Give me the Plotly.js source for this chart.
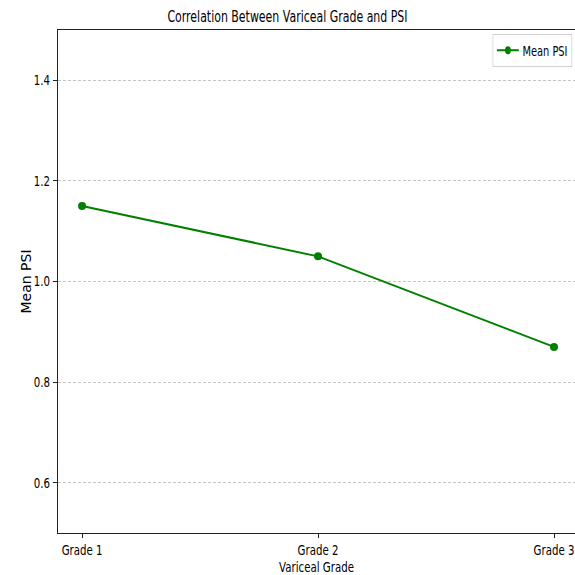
<!DOCTYPE html>
<html>
<head>
<meta charset="utf-8">
<script src="https://cdn.plot.ly/plotly-3.0.1.min.js"></script>
<style>html,body{margin:0;padding:0;background:#fff;}#chart{width:575px;height:575px;}</style>
</head>
<body>
<div id="chart"></div>
<script>
const grades = ["Grade 1", "Grade 2", "Grade 3"];
const meanPSI = [1.15, 1.05, 0.87];
const yTicks = [0.6, 0.8, 1.0, 1.2, 1.4];

const fam = "DejaVu Sans, sans-serif";
const SQ = 0.73;       // horizontal squeeze of the reference's text
const SQ_TITLE = 0.665;

Plotly.newPlot("chart", [{
  x: grades,
  y: meanPSI,
  type: "scatter",
  mode: "lines+markers",
  name: "Mean PSI",
  line: {color: "#008000", width: 2},
  marker: {color: "#008000", size: 8}
}], {
  width: 575, height: 575,
  margin: {l: 58, r: 0, t: 30, b: 42},
  paper_bgcolor: "#fff", plot_bgcolor: "#fff",
  title: {text: "Correlation Between Variceal Grade and PSI", font: {family: fam, size: 16.5, color: "#000"}, x: 0.5, xanchor: "center", y: 0.971, yanchor: "middle"},
  xaxis: {
    type: "category", range: [-0.102, 2.089],
    showline: true, linecolor: "#222", linewidth: 1.2, mirror: true,
    ticks: "outside", ticklen: 4, tickcolor: "#222",
    showgrid: false, zeroline: false,
    tickfont: {family: fam, size: 14, color: "#000"},
    title: {text: "Variceal Grade", font: {family: fam, size: 14, color: "#000"}, standoff: 6}
  },
  yaxis: {
    range: [0.5, 1.5], tickvals: yTicks, tickformat: ".1f",
    showline: true, linecolor: "#222", linewidth: 1.2, mirror: false,
    ticks: "outside", ticklen: 4, tickcolor: "#222",
    showgrid: true, gridcolor: "#c4c4c4", griddash: "3px,2px", gridwidth: 1,
    zeroline: false,
    tickfont: {family: fam, size: 14, color: "#000"}
  },
  annotations: [{
    text: "Mean PSI", textangle: -90, showarrow: false,
    xref: "paper", yref: "paper", x: 0, y: 0.5, xanchor: "center", yanchor: "middle", xshift: -33,
    font: {family: fam, size: 14, color: "#000"}
  }],
  showlegend: true,
  legend: {x: 0.995, y: 0.992, xanchor: "right", yanchor: "top", bgcolor: "#fff", bordercolor: "#d0d0d0", borderwidth: 1, itemwidth: 30, font: {family: fam, size: 13.5, color: "#000"}}
}, {displayModeBar: false}).then(function (gd) {
  function squeeze(el, s) {
    const x = parseFloat(el.getAttribute("x")) || 0;
    const t = el.getAttribute("transform") || "";
    el.setAttribute("transform", t + " translate(" + x + ",0) scale(" + s + ",1) translate(" + (-x) + ",0)");
  }
  gd.querySelectorAll(".xtitle, .xtick text, .ytick text").forEach(function (el) { squeeze(el, SQ); });
  gd.querySelectorAll(".gtitle").forEach(function (el) { squeeze(el, SQ_TITLE); });
  const lg = gd.querySelector("g.legend");
  const bg = lg && lg.querySelector("rect.bg");
  if (lg && bg) {
    const w = parseFloat(bg.getAttribute("width")) || 0;
    const m = /translate\(\s*([-\d.e]+)[ ,]+([-\d.e]+)\s*\)/.exec(lg.getAttribute("transform") || "");
    const lx = m ? parseFloat(m[1]) : 0, ly = m ? parseFloat(m[2]) : 0;
    lg.setAttribute("transform", "translate(" + (lx + w * (1 - SQ)) + "," + ly + ") scale(" + SQ + ",1)");
  }
});
</script>
</body>
</html>
